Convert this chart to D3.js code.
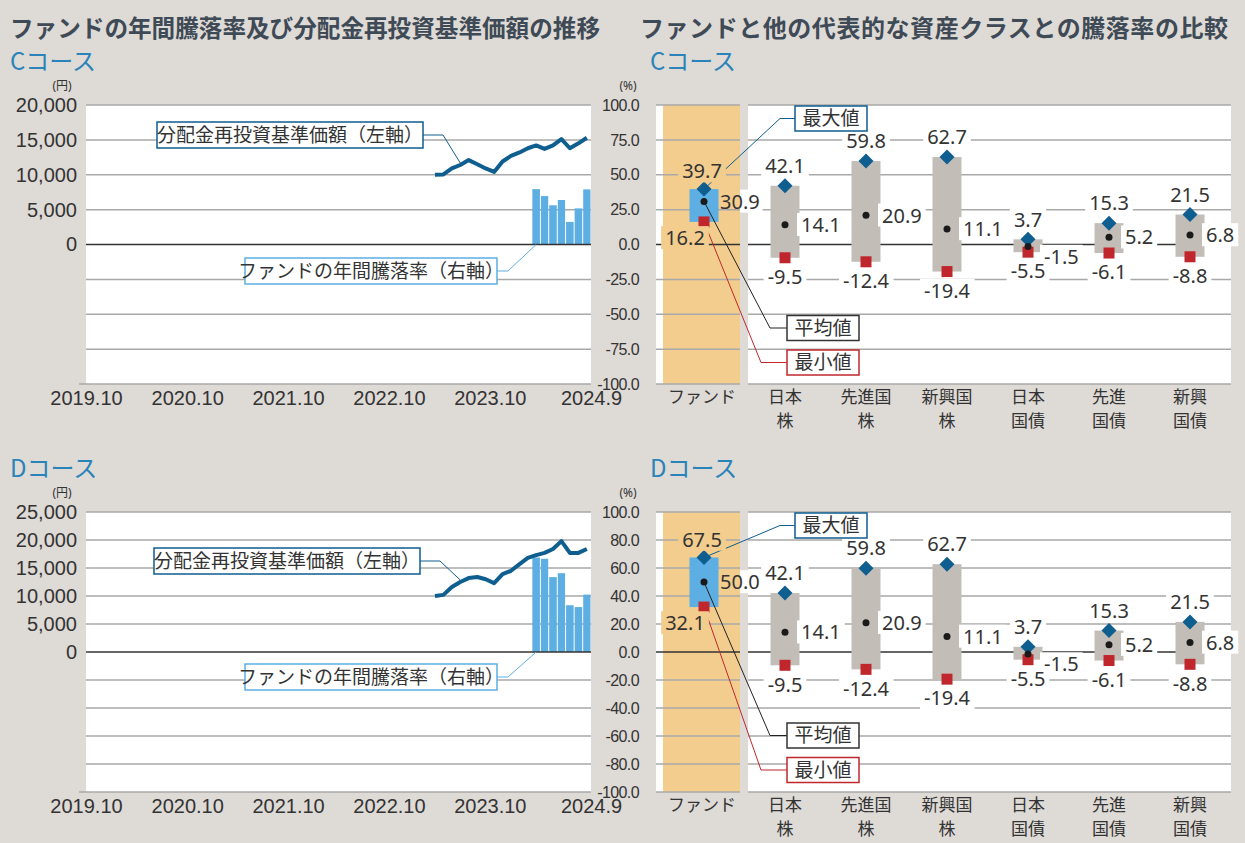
<!DOCTYPE html>
<html>
<head>
<meta charset="utf-8">
<script src="https://cdn.jsdelivr.net/npm/d3@7"></script>
<style>
    body { margin: 0; background: #dedad6; }
    svg  { display: block; font-family: "Noto Sans", "Noto Sans CJK JP", sans-serif; }
</style>
</head>
<body>
<svg id="chart" width="1245" height="843"></svg>
<script>
// The data...
var navMonths = [ '2023-03', '2023-04', '2023-05', '2023-06', '2023-07', '2023-08', '2023-09', '2023-10',
                  '2023-11', '2023-12', '2024-01', '2024-02', '2024-03', '2024-04', '2024-05', '2024-06',
                  '2024-07', '2024-08', '2024-09' ];
var navC = [ 10000, 10050, 10900, 11400, 12100, 11500, 10900, 10400, 11900, 12700,
             13200, 13800, 14200, 13700, 14200, 15100, 13800, 14500, 15300 ];
var navD = [ 10000, 10200, 11600, 12500, 13200, 13400, 13000, 12300, 13900, 14500,
             15700, 16800, 17300, 17700, 18400, 19800, 17700, 17700, 18400 ];

var retMonths = [ '2024-03', '2024-04', '2024-05', '2024-06', '2024-07', '2024-08', '2024-09' ];
var retC = [ 39.7, 34.7, 28.1, 31.9, 16.2, 25.9, 39.5 ];
var retD = [ 67.5, 66.6, 53.5, 56.3, 33.4, 32.1, 41.0 ];

var xTickMonths = [ '2019-10', '2020-10', '2021-10', '2022-10', '2023-10', '2024-10' ];
var xTickLabels = [ '2019.10', '2020.10', '2021.10', '2022.10', '2023.10', '2024.9' ];

var categories = [ 'ファンド', '日本株', '先進国株', '新興国株', '日本国債', '先進国債', '新興国債' ];
var catLines   = [ ['ファンド'], ['日本', '株'], ['先進国', '株'], ['新興国', '株'],
                   ['日本', '国債'], ['先進', '国債'], ['新興', '国債'] ];

var maxC  = [ 39.7, 42.1, 59.8, 62.7,  3.7, 15.3, 21.5 ];
var meanC = [ 30.9, 14.1, 20.9, 11.1, -1.5,  5.2,  6.8 ];
var minC  = [ 16.2, -9.5, -12.4, -19.4, -5.5, -6.1, -8.8 ];

var maxD  = [ 67.5, 42.1, 59.8, 62.7,  3.7, 15.3, 21.5 ];
var meanD = [ 50.0, 14.1, 20.9, 11.1, -1.5,  5.2,  6.8 ];
var minD  = [ 32.1, -9.5, -12.4, -19.4, -5.5, -6.1, -8.8 ];

// colours
var bgCol     = '#dedad6';
var gridCol   = '#a9a9a9';
var textCol   = '#333333';
var lineCol   = '#0e5e8f';
var barCol    = '#5daee2';
var orangeCol = '#f3cd8e';
var boxCol    = '#c2bdb7';
var redCol    = '#c0272d';

var svg = d3.select ('#chart');
var parse = d3.timeParse ('%Y-%m');

// plain hyphen for negatives, as in the original
var locale = d3.formatLocale ({ decimal: '.', thousands: ',', grouping: [3], currency: ['', ''], minus: '-' });
var f1 = locale.format ('.1f');
var fComma = locale.format (',');

// titles
svg.append ('text').attr ('x', 10).attr ('y', 37).text ('ファンドの年間騰落率及び分配金再投資基準価額の推移')
   .attr ('font-size', '24px').attr ('font-weight', 'bold').attr ('fill', '#3e4a56')
   .attr ('font-family', '"Noto Sans CJK JP"')
   .attr ('textLength', 590).attr ('lengthAdjust', 'spacingAndGlyphs');
svg.append ('text').attr ('x', 640).attr ('y', 37).text ('ファンドと他の代表的な資産クラスとの騰落率の比較')
   .attr ('font-size', '24px').attr ('font-weight', 'bold').attr ('fill', '#3e4a56')
   .attr ('font-family', '"Noto Sans CJK JP"')
   .attr ('textLength', 588).attr ('lengthAdjust', 'spacing');


//
// One callout box with text
//
function callout (g, x, y, w, h, label, col)
{
    g.append ('rect').attr ('x', x).attr ('y', y).attr ('width', w).attr ('height', h)
     .attr ('fill', '#ffffff').attr ('stroke', col).attr ('stroke-width', 1.5);
    g.append ('text').attr ('x', x + w / 2).attr ('y', y + h / 2).attr ('dy', '0.36em')
     .attr ('text-anchor', 'middle').attr ('font-size', '19px').attr ('fill', textCol)
     .attr ('font-family', '"Noto Sans CJK JP"').text (label);
}

// text with a background patch behind it
function bgText (g, x, y, str, anchor, fill)
{
    var t = g.append ('text').attr ('x', x).attr ('y', y).attr ('dy', '0.36em')
             .attr ('text-anchor', anchor).attr ('font-size', '20px').attr ('fill', textCol).text (str);
    var bb = t.node ().getBBox ();
    if (fill)
        g.insert ('rect', function () { return t.node (); })
         .attr ('x', bb.x - 4).attr ('y', bb.y + 2).attr ('width', bb.width + 8).attr ('height', bb.height - 4)
         .attr ('fill', fill);
    return bb;
}


function drawCourse (cfg)
{
    var top = cfg.top, bottom = cfg.bottom;
    var g = svg.append ('g');

    var yR = d3.scaleLinear ().domain ([-100, 100]).range ([bottom, top]);
    var yL = d3.scaleLinear ().domain ([-cfg.leftMax, cfg.leftMax]).range ([bottom, top]);
    var x  = d3.scaleTime ().domain ([parse ('2019-10'), parse ('2024-10')]).range ([86, 591]);
    var rightTicks = d3.range (-100, 100.001, cfg.step);
    var leftTicks  = d3.range (0, cfg.leftMax + 1, 5000);

    var xMid = function (m) { var d = parse (m); return (x (d) + x (d3.timeMonth.offset (d, 1))) / 2; };

    // course labels
    [10, 650].forEach (function (lx) {
        g.append ('text').attr ('x', lx).attr ('y', cfg.headY).text (cfg.name)
         .attr ('font-size', '24px').attr ('fill', '#2a83b9').attr ('font-family', '"Noto Sans CJK JP"');
    });
    g.append ('text').attr ('x', 62).attr ('y', top - 15).attr ('text-anchor', 'middle')
     .attr ('font-size', '12px').attr ('fill', textCol).text ('(円)');
    g.append ('text').attr ('x', 628).attr ('y', top - 15).attr ('text-anchor', 'middle')
     .attr ('font-size', '12px').attr ('fill', textCol).text ('(%)');

    // ---------- left panel ----------
    g.append ('rect').attr ('x', 86).attr ('y', top).attr ('width', 591 - 86).attr ('height', bottom - top)
     .attr ('fill', '#ffffff');

    g.selectAll ('.gl').data (rightTicks.filter (function (t) { return t != 0; })).enter ()
     .append ('line')
     .attr ('x1', function (t) { return t == -100 ? 79 : 86; }).attr ('x2', 591)
     .attr ('y1', function (t) { return yR (t); }).attr ('y2', function (t) { return yR (t); })
     .attr ('stroke', gridCol).attr ('stroke-width', 1.5);

    // bars of the yearly return (right axis)
    g.selectAll ('.bar').data (cfg.ret).enter ()
     .append ('rect')
     .attr ('x', function (d, i) { return x (parse (retMonths[i])) + 0.5; })
     .attr ('width', function (d, i) { var d0 = parse (retMonths[i]); return x (d3.timeMonth.offset (d0, 1)) - x (d0) - 1; })
     .attr ('y', function (d) { return yR (d); })
     .attr ('height', function (d) { return yR (0) - yR (d); })
     .attr ('fill', barCol);

    g.append ('line').attr ('x1', 86).attr ('x2', 591).attr ('y1', yR (0)).attr ('y2', yR (0))
     .attr ('stroke', '#333').attr ('stroke-width', 1.5);

    // callout leaders (drawn under the line)
    var nb = cfg.navBox, rb = cfg.retBox;
    var navTarget = [ xMid (navMonths[3]), yL (cfg.nav[3]) - 2 ];
    g.append ('path').attr ('d', d3.line () ([ [nb.x + nb.w, nb.y + nb.h / 2], [nb.x + nb.w + 20, nb.y + nb.h / 2], navTarget ]))
     .attr ('fill', 'none').attr ('stroke', lineCol).attr ('stroke-width', 1);
    var retTarget = [ xMid (retMonths[0]), yR (0) ];
    g.append ('path').attr ('d', d3.line () ([ [rb.x + rb.w, rb.y + rb.h / 2], [rb.x + rb.w + 11, rb.y + rb.h / 2], retTarget ]))
     .attr ('fill', 'none').attr ('stroke', barCol).attr ('stroke-width', 1);

    // NAV line (left axis)
    var line = d3.line ()
                 .x (function (d, i) { return xMid (navMonths[i]); })
                 .y (function (d) { return yL (d); });
    g.append ('path').datum (cfg.nav).attr ('d', line)
     .attr ('fill', 'none').attr ('stroke', lineCol).attr ('stroke-width', 4)
     .attr ('stroke-linejoin', 'round');

    callout (g, nb.x, nb.y, nb.w, nb.h, '分配金再投資基準価額（左軸）', lineCol);
    callout (g, rb.x, rb.y, rb.w, rb.h, 'ファンドの年間騰落率（右軸）', barCol);

    // axes
    var yAxisL = d3.axisLeft (yL).tickValues (leftTicks).tickSize (0).tickPadding (9).tickFormat (fComma);
    g.append ('g').attr ('transform', 'translate(86,0)').call (yAxisL)
     .call (function (a) { a.select ('.domain').remove (); })
     .selectAll ('text').attr ('font-size', '20px').attr ('fill', textCol);

    var yAxisR = d3.axisLeft (yR).tickValues (rightTicks).tickSize (0).tickPadding (0).tickFormat (f1);
    g.append ('g').attr ('transform', 'translate(639,0)').call (yAxisR)
     .call (function (a) { a.select ('.domain').remove (); })
     .selectAll ('text').attr ('font-size', '16px').attr ('fill', textCol).attr ('letter-spacing', '-0.6px');

    var xAxis = d3.axisBottom (x).tickValues (xTickMonths.map (parse)).tickSize (0).tickPadding (7)
                  .tickFormat (function (d, i) { return xTickLabels[i]; });
    g.append ('g').attr ('transform', 'translate(0,' + bottom + ')').call (xAxis)
     .call (function (a) { a.select ('.domain').remove (); })
     .selectAll ('text').attr ('font-size', '20px').attr ('fill', textCol);

    // ---------- right panel ----------
    var xc = d3.scalePoint ().domain (categories).range ([704, 1190]);
    var half = 14.5;

    g.append ('rect').attr ('x', 656).attr ('y', top).attr ('width', 1231 - 656).attr ('height', bottom - top)
     .attr ('fill', '#ffffff');
    g.append ('rect').attr ('x', 663).attr ('y', top).attr ('width', 740 - 663).attr ('height', bottom - top)
     .attr ('fill', orangeCol);

    g.selectAll ('.gr').data (rightTicks).enter ()
     .append ('line')
     .attr ('x1', 656).attr ('x2', 1231)
     .attr ('y1', function (t) { return yR (t); }).attr ('y2', function (t) { return yR (t); })
     .attr ('stroke', function (t) { return t == 0 ? '#333' : gridCol; }).attr ('stroke-width', 1.5);

    g.append ('rect').attr ('x', 740).attr ('y', top - 1).attr ('width', 8).attr ('height', bottom - top + 2)
     .attr ('fill', bgCol);

    // range boxes
    g.selectAll ('.box').data (categories).enter ()
     .append ('rect')
     .attr ('x', function (c) { return xc (c) - half; })
     .attr ('width', half * 2)
     .attr ('y', function (c, i) { return yR (cfg.maxV[i]); })
     .attr ('height', function (c, i) { return yR (cfg.minV[i]) - yR (cfg.maxV[i]); })
     .attr ('fill', function (c, i) { return i == 0 ? barCol : boxCol; });

    // leaders from the fund markers to their callouts
    var fx = xc (categories[0]);
    var bx = 795, mx = 787;
    var maxBoxY  = top + 1;
    var meanBoxY = yR (0) + 71;
    var minBoxY  = yR (0) + 105.5;
    g.append ('path').attr ('d', d3.line () ([ [bx, maxBoxY + 12.5], [bx - 15, maxBoxY + 12.5], [fx, yR (cfg.maxV[0])] ]))
     .attr ('fill', 'none').attr ('stroke', lineCol).attr ('stroke-width', 1);
    g.append ('path').attr ('d', d3.line () ([ [mx, meanBoxY + 12.5], [mx - 17, meanBoxY + 12.5], [fx, yR (cfg.meanV[0])] ]))
     .attr ('fill', 'none').attr ('stroke', '#222').attr ('stroke-width', 1);
    g.append ('path').attr ('d', d3.line () ([ [mx, minBoxY + 12.5], [mx - 26, minBoxY + 12.5], [fx, yR (cfg.minV[0])] ]))
     .attr ('fill', 'none').attr ('stroke', redCol).attr ('stroke-width', 1);

    // markers
    g.selectAll ('.mx').data (categories).enter ()
     .append ('path')
     .attr ('d', function (c, i) {
         var cx = xc (c), cy = yR (cfg.maxV[i]), r = 7.5;
         return 'M' + cx + ',' + (cy - r) + 'L' + (cx + r) + ',' + cy + 'L' + cx + ',' + (cy + r) + 'L' + (cx - r) + ',' + cy + 'Z';
     })
     .attr ('fill', lineCol);
    g.selectAll ('.mn').data (categories).enter ()
     .append ('rect')
     .attr ('x', function (c) { return xc (c) - 5.5; })
     .attr ('y', function (c, i) { return yR (cfg.minV[i]) - 5.5; })
     .attr ('width', 11).attr ('height', 11)
     .attr ('fill', redCol);
    g.selectAll ('.av').data (categories).enter ()
     .append ('circle')
     .attr ('cx', function (c) { return xc (c); })
     .attr ('cy', function (c, i) { return yR (cfg.meanV[i]); })
     .attr ('r', 3.5)
     .attr ('fill', '#1a1a1a');

    // value labels
    categories.forEach (function (c, i) {
        var cx = xc (c);
        if (i == 0)
        {
            bgText (g, cx - 2, yR (cfg.maxV[i]) - 18, f1 (cfg.maxV[i]), 'middle', orangeCol);
            var mt = g.append ('g');
            var bb = bgText (mt, cx + 16, yR (cfg.meanV[i]), f1 (cfg.meanV[i]), 'start', null);
            mt.insert ('rect', 'text').attr ('x', 740).attr ('y', bb.y + 2).attr ('width', bb.x + bb.width + 3 - 740)
              .attr ('height', bb.height - 4).attr ('fill', '#ffffff');
            bgText (g, cx - 19, yR (cfg.minV[i]) + 16, f1 (cfg.minV[i]), 'middle', orangeCol);
        }
        else
        {
            bgText (g, cx, yR (cfg.maxV[i]) - 20, f1 (cfg.maxV[i]), 'middle', '#ffffff');
            var dy = Math.abs (cfg.meanV[i]) < 3 ? 10 : 0;
            bgText (g, cx + 16, yR (cfg.meanV[i]) + dy, f1 (cfg.meanV[i]), 'start', '#ffffff');
            bgText (g, cx, yR (cfg.minV[i]) + 19, f1 (cfg.minV[i]), 'middle', '#ffffff');
        }
    });

    callout (g, bx, maxBoxY, 72, 25, '最大値', lineCol);
    callout (g, mx, meanBoxY, 72, 25, '平均値', '#333');
    callout (g, mx, minBoxY, 72, 25, '最小値', redCol);

    // category labels
    categories.forEach (function (c, i) {
        catLines[i].forEach (function (s, j) {
            g.append ('text').attr ('x', xc (c) - (i == 0 ? 2 : 0)).attr ('y', bottom + 13 + j * 24).attr ('dy', '0.36em')
             .attr ('text-anchor', 'middle').attr ('font-size', '17px').attr ('fill', textCol)
             .attr ('font-family', '"Noto Sans CJK JP"').text (s);
        });
    });
}

drawCourse ({
    name: 'Cコース', headY: 70, top: 105, bottom: 384, leftMax: 20000, step: 25,
    nav: navC, ret: retC, maxV: maxC, meanV: meanC, minV: minC,
    navBox: { x: 157, y: 122, w: 266, h: 26 },
    retBox: { x: 245, y: 258, w: 252, h: 26 }
});

drawCourse ({
    name: 'Dコース', headY: 477, top: 512, bottom: 792, leftMax: 25000, step: 20,
    nav: navD, ret: retD, maxV: maxD, meanV: meanD, minV: minD,
    navBox: { x: 154, y: 548, w: 266, h: 26 },
    retBox: { x: 245, y: 664, w: 252, h: 26 }
});
</script>
</body>
</html>
